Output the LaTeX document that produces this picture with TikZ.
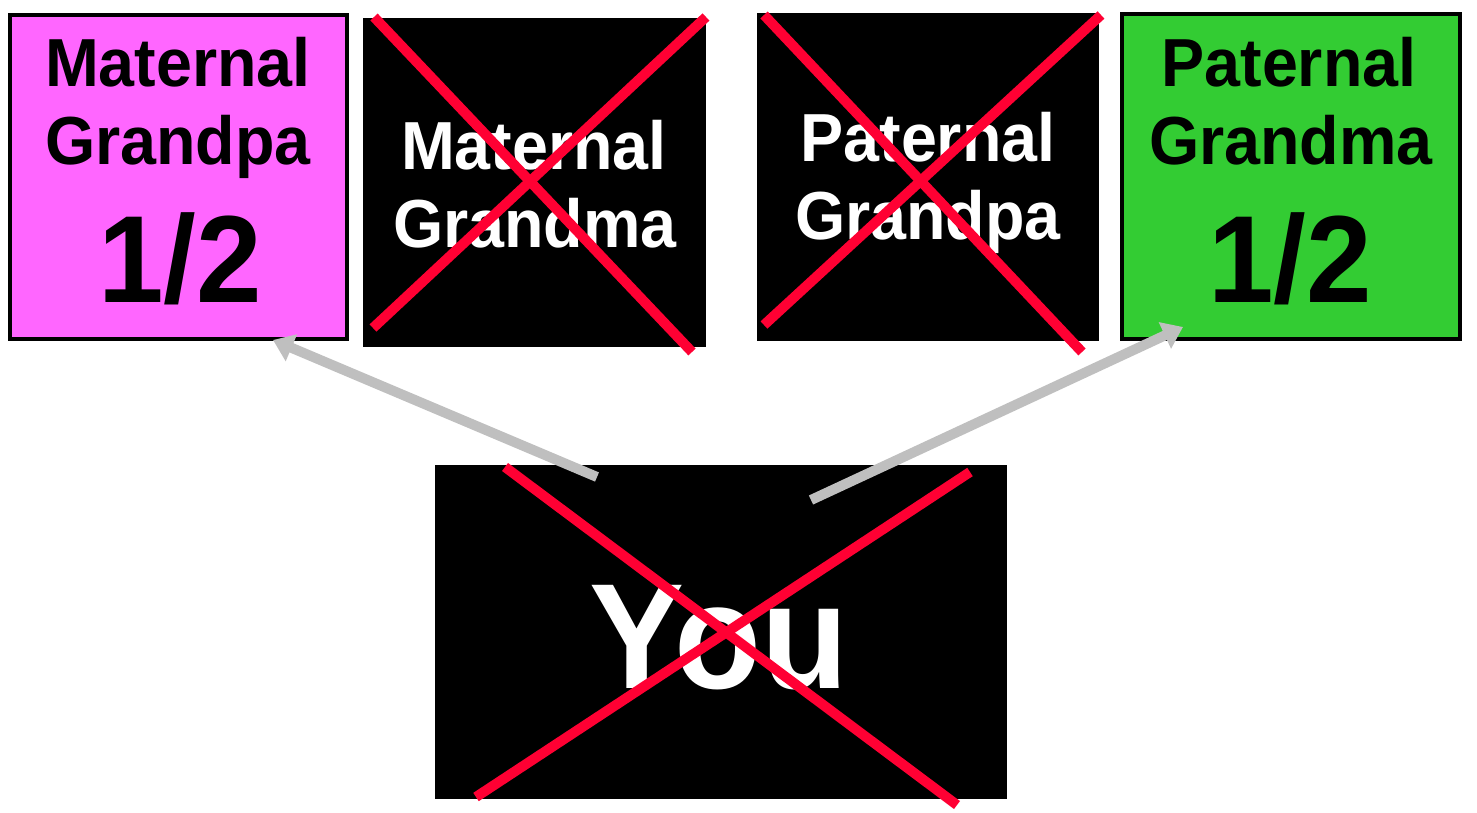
\documentclass[tikz,border=0pt]{standalone}
\usepackage{fontspec}
\setmainfont{Liberation Sans}[FakeStretch=0.95]
\usetikzlibrary{arrows.meta}
\definecolor{pinkfill}{HTML}{FF66FF}
\definecolor{greenfill}{HTML}{33CC33}
\definecolor{crossred}{HTML}{FF0033}
\definecolor{arrowgray}{HTML}{BFBFBF}
\begin{document}
\begin{tikzpicture}[x=1pt,y=-1pt,
  livebox/.style={draw=black,line width=4pt},
  deadbox/.style={fill=black,draw=none},
  lbl/.style={anchor=base,inner sep=0pt,font=\fontsize{68}{68}\selectfont\bfseries},
  frac/.style={anchor=base,inner sep=0pt,font=\fontsize{124}{124}\selectfont\bfseries},
  crossline/.style={draw=crossred,line width=10pt},
  kin/.style={draw=arrowgray,line width=10pt,-{Triangle[length=20pt,width=28pt]}}]
\useasboundingbox (0,0) rectangle (1477,813);
% boxes
\path[livebox,fill=pinkfill] (10,15) rectangle (347,339);
\path[deadbox] (363,18) rectangle (706,347);
\path[deadbox] (757,13) rectangle (1099,341);
\path[livebox,fill=greenfill] (1122,14) rectangle (1460,339);
\path[deadbox] (435,465) rectangle (1007,799);
% texts
\node[lbl] (mgpa1) at (178,87) {Maternal};
\node[lbl] (mgpa2) at (178,165) {Grandpa};
\node[frac] (mgpa3) at (180,302) {1/2};
\node[lbl,text=white] (mgma1) at (534,170) {Maternal};
\node[lbl,text=white] (mgma2) at (535,247) {Grandma};
\node[lbl,text=white] (pgpa1) at (928,162) {Paternal};
\node[lbl,text=white] (pgpa2) at (928,240) {Grandpa};
\node[lbl] (pgma1) at (1289,87) {Paternal};
\node[lbl] (pgma2) at (1291,165) {Grandma};
\node[frac] (pgma3) at (1290,302) {1/2};
\node[anchor=base,inner sep=0pt,text=white,font=\fontsize{150}{150}\selectfont\bfseries] (you) at (719,688) {You};
% arrows
\coordinate (la) at (597,477);
\coordinate (lt) at (273,340);
\coordinate (ra) at (811,500);
\coordinate (rt) at (1183,327);
\draw[kin] (la) -- (lt);
\draw[kin] (ra) -- (rt);
% crosses
\draw[crossline] (374,17) -- (692,352);
\draw[crossline] (706,17) -- (373,328);
\draw[crossline] (764,15) -- (1082,352);
\draw[crossline] (1101,15) -- (764,325);
\draw[crossline] (505,467) -- (957,805);
\draw[crossline] (970,472) -- (476,797);
\end{tikzpicture}
\end{document}
